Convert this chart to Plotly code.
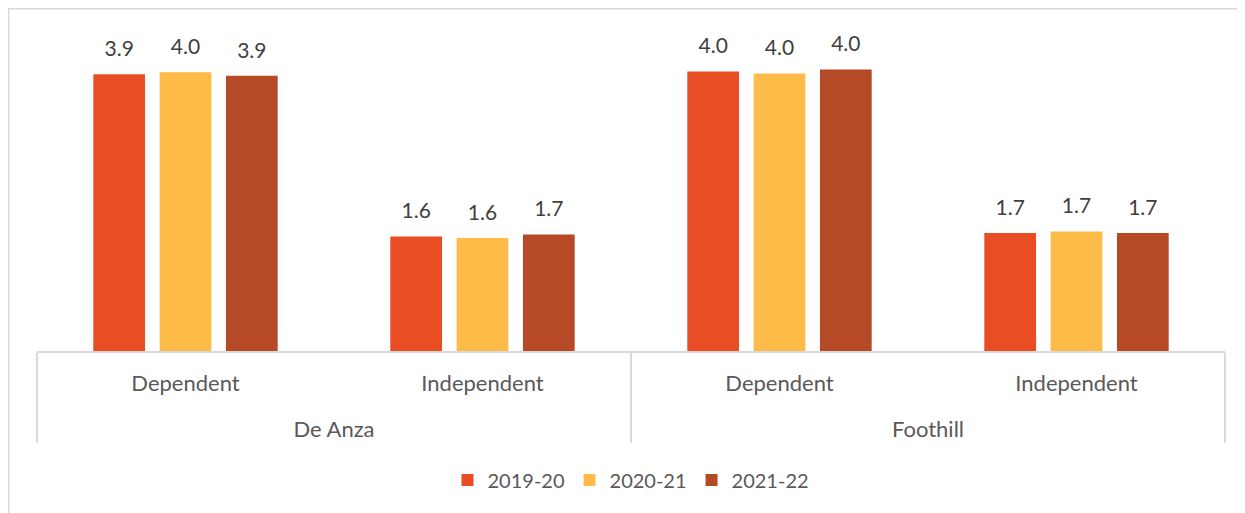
import plotly.graph_objects as go

colleges = ["<br>De Anza", "<br>De Anza", "<br>Foothill", "<br>Foothill"]
status = ["Dependent", "Independent", "Dependent", "Independent"]
series_names = ["2019-20", "2020-21", "2021-22"]
v2019 = [3.94, 1.63, 3.98, 1.68]
v2020 = [3.97, 1.61, 3.95, 1.70]
v2021 = [3.92, 1.66, 4.01, 1.68]
colors = ["#E84D23", "#FFBB47", "#B64926"]

# page has an 8px body margin, so the figure fills the visible 1237x505 area
W, H = 1237, 505
ml, mr, mt, mb = 29, 20, 27, 162
GAP = 0.33

fig = go.Figure()
for name, vals, col in zip(series_names, [v2019, v2020, v2021], colors):
    fig.add_trace(go.Bar(
        x=[colleges, status], y=vals, name=name, marker_color=col,
        marker_line_width=0, hoverinfo="y+name",
    ))
for name, vals in zip(series_names, [v2019, v2020, v2021]):
    fig.add_trace(go.Scatter(
        x=[colleges, status], y=vals, name=name, showlegend=False,
        mode="markers+text", marker=dict(size=19, opacity=0),
        text=[f"{v:.1f}" for v in vals], textposition="top center",
        textfont=dict(family="Lato", size=21, color="#404040"),
        cliponaxis=False, hoverinfo="skip",
    ))

fig.update_layout(
    width=W, height=H,
    margin=dict(l=ml, r=mr, t=mt, b=mb),
    paper_bgcolor="white", plot_bgcolor="white",
    barmode="group", bargap=GAP, bargroupgap=0.22,
    scattermode="group", scattergap=GAP,
    font=dict(family="Lato", size=21, color="#595959"),
    legend=dict(orientation="h", x=0.5, xanchor="center", y=-0.408, yanchor="middle",
                font=dict(family="Lato", size=20, color="#595959"),
                itemwidth=30, traceorder="normal"),
)
fig.update_xaxes(type="multicategory", showline=True, linecolor="#D9D9D9", linewidth=1.5,
                 showdividers=True, dividercolor="#D9D9D9", dividerwidth=1.5,
                 ticks="", ticklabelstandoff=12,
                 tickfont=dict(family="Lato", size=22, color="#595959"))
fig.update_yaxes(range=[0, 4.5], visible=False, showgrid=False, zeroline=False)

# outer chart frame
pw = W - ml - mr
ph = H - mt - mb
fig.add_shape(type="rect", xref="paper", yref="paper",
              x0=(0.75 - ml) / pw, x1=(W + 5 - ml) / pw,
              y0=-(H + 5 - mt - ph) / ph, y1=(ph + mt - 0.75) / ph,
              line=dict(color="#D9D9D9", width=1.5), layer="below")

fig.write_html("out.html")
